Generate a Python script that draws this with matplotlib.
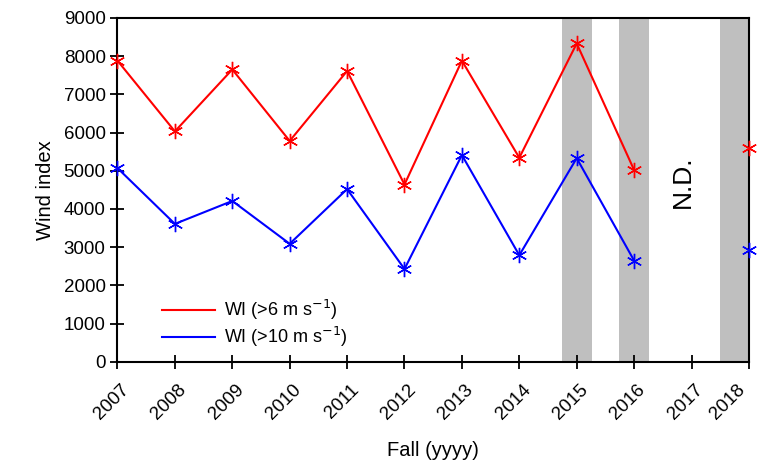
import numpy as np
import matplotlib
matplotlib.use('Agg')
import matplotlib.pyplot as plt
from matplotlib.transforms import ScaledTranslation

plt.rcParams['font.family'] = ['Liberation Sans', 'DejaVu Sans']

# data (2017 = no data)
years = [2007, 2008, 2009, 2010, 2011, 2012, 2013, 2014, 2015, 2016, 2017, 2018]
wi_6 = [7880, 6030, 7650, 5780, 7610, 4640, 7880, 5340, 8330, 5020, np.nan, 5600]
wi_10 = [5070, 3610, 4210, 3090, 4520, 2430, 5410, 2790, 5330, 2650, np.nan, 2940]
shade_years = [2015, 2016, 2018]

fig, ax = plt.subplots(figsize=(7.58, 4.70), dpi=100)
fig.subplots_adjust(left=0.155, right=0.988, top=0.962, bottom=0.23)

for yr in shade_years:
    if yr == 2018:
        ax.axvspan(yr - 0.5, yr, color='#bfbfbf', zorder=0, lw=0)
    else:
        ax.axvspan(yr - 0.26, yr + 0.26, color='#bfbfbf', zorder=0, lw=0)

l6, = ax.plot(years, wi_6, color='#ff0000', lw=1.5, marker=(6, 2, 0), ms=11,
              mew=1.0, clip_on=False, zorder=3)
l10, = ax.plot(years, wi_10, color='#0000ff', lw=1.5, marker=(6, 2, 0), ms=11,
               mew=1.0, clip_on=False, zorder=3)

ax.text(2016.85, 4700, 'N.D.', rotation=90, ha='center', va='center', fontsize=19)

ax.set_xlim(2007, 2018)
ax.set_ylim(0, 9000)
ax.set_xticks(years)
ax.set_xticklabels([str(y) for y in years], rotation=45, ha='right', va='top',
                   rotation_mode='anchor', fontsize=13.5)
ax.set_yticks(range(0, 9001, 1000))
ax.tick_params(axis='y', labelsize=13.5)
ax.tick_params(direction='inout', length=10, width=1.3, colors='black')
ax.tick_params(axis='x', pad=9)
# last label sits a bit left so it stays inside the figure
for lbl in ax.get_xticklabels():
    dx = 2 / 72 if lbl.get_text() != '2018' else -9 / 72
    lbl.set_transform(lbl.get_transform() + ScaledTranslation(dx, 0, fig.dpi_scale_trans))
ax.set_xlabel('Fall (yyyy)', fontsize=14.5, labelpad=13)
ax.set_ylabel('Wind index', fontsize=14.5, labelpad=6)
for s in ax.spines.values():
    s.set_linewidth(1.5)

# legend shows plain lines, no markers
h6 = plt.Line2D([], [], color='#ff0000', lw=1.5)
h10 = plt.Line2D([], [], color='#0000ff', lw=1.5)
ax.legend([h6, h10], ['WI (>6 m s$^{-1}$)', 'WI (>10 m s$^{-1}$)'],
          loc='lower left', bbox_to_anchor=(0.045, -0.01), frameon=False,
          fontsize=13, handlelength=2.9, handletextpad=0.5, labelspacing=0.15)

fig.savefig('out.png', dpi=100)
